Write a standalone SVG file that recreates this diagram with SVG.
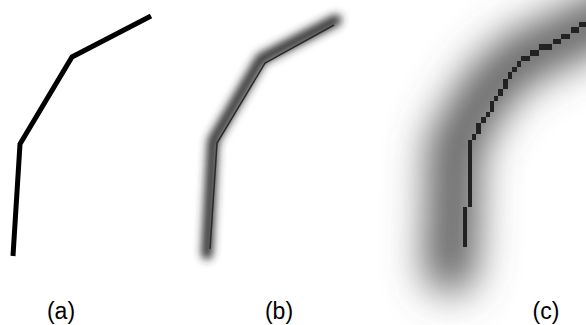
<svg xmlns="http://www.w3.org/2000/svg" width="586" height="325" viewBox="0 0 586 325">
<defs>
<filter id="blurB" x="-50%" y="-50%" width="200%" height="200%"><feGaussianBlur stdDeviation="4.5"/></filter>
<filter id="blurC" x="-50%" y="-50%" width="200%" height="200%"><feGaussianBlur stdDeviation="20"/></filter>
<style>
.lbl{font-family:"Liberation Sans",Arial,sans-serif;font-size:23px;fill:#000;text-anchor:middle}
.px{fill:#222}
</style>
</defs>
<rect width="586" height="325" fill="#fff"/>
<g id="panel-a">
<polyline points="13,256 20,144 72,57 151,16" fill="none" stroke="#000" stroke-width="5" stroke-linejoin="miter"/>
</g>
<g id="panel-b">
<polyline points="207,254 213,141 261,59 336,20" fill="none" stroke="#2a2a2a" stroke-width="11" stroke-linecap="round" stroke-linejoin="round" filter="url(#blurB)"/>
<polyline points="210,249 217,143 265,63 334,25" fill="none" stroke="#2a2a2a" stroke-width="1.5"/>
</g>
<g id="panel-c">
<polyline points="450,268 453,205 454,145 488,88 520,58 560,40 615,14" fill="none" stroke="#5a5a5a" stroke-width="50" stroke-linecap="round" stroke-linejoin="round" filter="url(#blurC)"/>
<g shape-rendering="crispEdges">
<rect class="px" x="579" y="22" width="7" height="5"/>
<rect class="px" x="571" y="27" width="8" height="6"/>
<rect class="px" x="561" y="34" width="9" height="5"/>
<rect class="px" x="553" y="39" width="8" height="5"/>
<rect class="px" x="539" y="44" width="13" height="6"/>
<rect class="px" x="530" y="50" width="9" height="6"/>
<rect class="px" x="521" y="56" width="9" height="5"/>
<rect class="px" x="517" y="61" width="4" height="6"/>
<rect class="px" x="512" y="67" width="5" height="5"/>
<rect class="px" x="508" y="72" width="4" height="7"/>
<rect class="px" x="503" y="79" width="5" height="10"/>
<rect class="px" x="498" y="89" width="5" height="7"/>
<rect class="px" x="494" y="96" width="4" height="5"/>
<rect class="px" x="490" y="101" width="4" height="11"/>
<rect class="px" x="486" y="112" width="4" height="5"/>
<rect class="px" x="481" y="117" width="5" height="6"/>
<rect class="px" x="476" y="123" width="5" height="11"/>
<rect class="px" x="472" y="134" width="4" height="6"/>
<rect class="px" x="468" y="140" width="4" height="67"/>
<rect class="px" x="463" y="207" width="4" height="40"/>
</g>
</g>
<g id="labels">
<text class="lbl" x="61" y="319">(a)</text>
<text class="lbl" x="279" y="319">(b)</text>
<text class="lbl" x="546" y="319">(c)</text>
</g>
</svg>
